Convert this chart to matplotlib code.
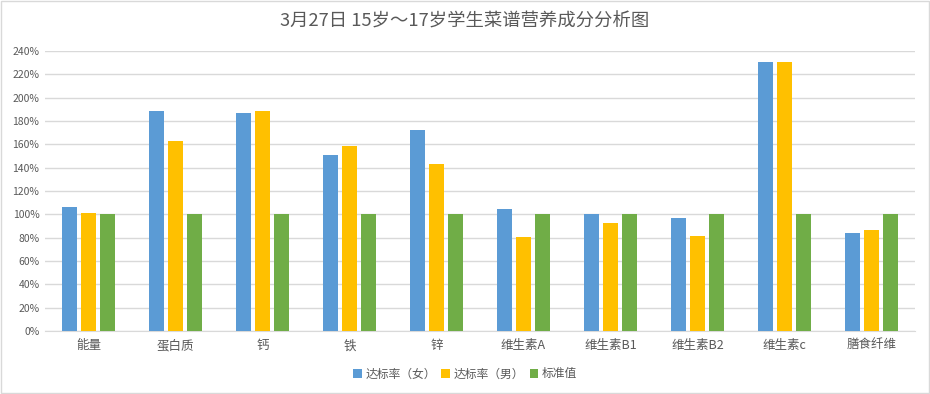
import matplotlib
matplotlib.use("Agg")
import matplotlib.pyplot as plt
import numpy as np
from matplotlib.ticker import FuncFormatter, MultipleLocator
from matplotlib.patches import Rectangle

plt.rcParams['font.family'] = ['Noto Sans CJK SC', 'DejaVu Sans']

categories = ["能量", "蛋白质", "钙", "铁", "锌", "维生素A", "维生素B1", "维生素B2", "维生素c", "膳食纤维"]
female = [106.5, 189, 187, 151, 172.5, 104.7, 100.4, 97, 231, 84]
male = [101.3, 163, 189, 159, 143.3, 80.7, 92.7, 81.5, 231, 86.7]
standard = [100] * 10
series_names = ["达标率（女）", "达标率（男）", "标准值"]
colors = ["#5B9BD5", "#FFC000", "#70AD47"]
title = "3月27日 15岁～17岁学生菜谱营养成分分析图"

fig = plt.figure(figsize=(9.3, 3.94), dpi=100)
fig.patches.append(Rectangle((0.0015, 0.002), 0.997, 0.995, transform=fig.transFigure,
                             fill=False, edgecolor="#D9D9D9", linewidth=1))
ax = fig.add_axes([45/930, 1-331/394, 870/930, 280/394])

x = np.arange(len(categories))
w = 0.172
step = 0.218
for i, (vals, c, n) in enumerate(zip([female, male, standard], colors, series_names)):
    ax.bar(x + (i-1)*step, vals, width=w, color=c, label=n, zorder=3)

ax.set_xlim(-0.5, len(categories)-0.5)
ax.set_ylim(0, 240)
ax.yaxis.set_major_locator(MultipleLocator(20))
ax.yaxis.set_major_formatter(FuncFormatter(lambda v, p: f"{int(round(v))}%"))
ax.grid(axis='y', color="#D9D9D9", linewidth=1, zorder=0)
ax.set_xticks(x)
ax.set_xticklabels(categories, fontsize=9, color="#595959")
ax.tick_params(axis='y', labelsize=7.5, labelcolor="#595959", length=0, pad=4)
ax.tick_params(axis='x', length=0, pad=6)
for s in ['top', 'right', 'left']:
    ax.spines[s].set_visible(False)
ax.spines['bottom'].set_color("#D9D9D9")

fig.text(0.5, 1-22/394, title, ha='center', va='center', fontsize=13.2, color="#595959",
         fontweight='light')

leg = fig.legend(loc='center', bbox_to_anchor=(0.5, 1-374/394), ncol=3, frameon=False,
                 fontsize=8.5, handlelength=0.7, handleheight=0.7, handletextpad=0.3,
                 columnspacing=0.5, labelcolor="#595959")

fig.savefig("out.png", dpi=100, facecolor="white")
